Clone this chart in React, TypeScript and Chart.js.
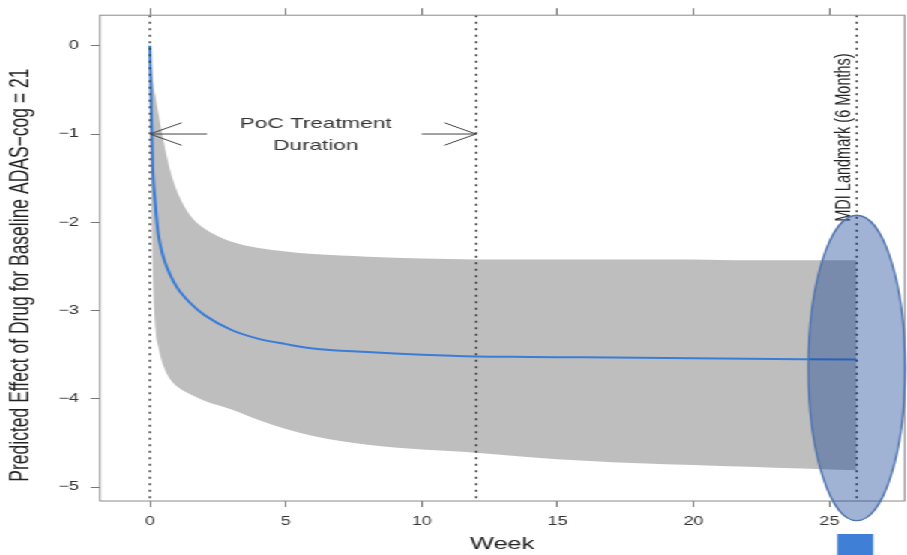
import { useEffect, useRef } from 'react';
import { Chart, registerables } from 'chart.js';

Chart.register(...registerables);

// ---- data ----
const WEEKS = [0, 0.05, 0.1, 0.2, 0.3, 0.5, 0.75, 1, 1.5, 2, 3, 4, 5, 6, 8, 10, 12, 14, 16, 18, 20, 22, 24, 26];
const MEAN = [0, -0.75, -1.36, -1.8, -2.12, -2.4, -2.6, -2.74, -2.92, -3.05, -3.22, -3.32, -3.38, -3.43, -3.47, -3.5, -3.52, -3.525, -3.53, -3.535, -3.54, -3.545, -3.55, -3.555];
const UPPER = [0, -0.2, -0.37, -0.57, -0.75, -1.08, -1.42, -1.65, -1.93, -2.07, -2.22, -2.29, -2.33, -2.36, -2.39, -2.41, -2.42, -2.42, -2.42, -2.42, -2.42, -2.43, -2.43, -2.43];
const LOWER = [0, -1.6, -2.5, -3.2, -3.4, -3.63, -3.78, -3.86, -3.95, -4.02, -4.12, -4.24, -4.34, -4.42, -4.52, -4.575, -4.61, -4.66, -4.7, -4.73, -4.75, -4.77, -4.79, -4.81];

const X_TICKS = [0, 5, 10, 15, 20, 25];
const Y_TICKS = [0, -1, -2, -3, -4, -5];
const X_MIN = -1.84;
const X_MAX = 27.76;
const Y_MIN = -5.157;
const Y_MAX = 0.346;

const VLINES = [0, 12, 26];
const POC_START = 0;
const POC_END = 12;
const ARROW_Y = -1;
const ARROW_TAIL_LEFT = 2.1;
const ARROW_TAIL_RIGHT = 10.0;
const POC_TEXT_X = 6.1;
const POC_TEXT = ['PoC Treatment', 'Duration'];
const POC_TEXT_Y = [-0.89, -1.13];
const MDI_TEXT = 'MDI Landmark (6 Months)';
const MDI_X = 25.55;
const MDI_Y = -1.04;
const ELLIPSE = { x: 26, y: -3.65, rx: 1.78, ry: 1.73 };

const Y_TITLE = 'Predicted Effect of Drug for Baseline ADAS\u2212cog = 21';
const X_TITLE = 'Week';

// ---- layout ----
const CW = 605;
const CH = 555;
const VIEW_W = 907;
const FONT = "'Liberation Sans', Arial, Helvetica, sans-serif";

const tickSetter = (vals: number[]) => (s: any) => {
  s.ticks = vals.map((v) => ({ value: v }));
};

const annotPlugin = {
  id: 'annot',
  afterDatasetsDraw(chart: any) {
    const { ctx, chartArea: a, scales } = chart;
    const x = scales.x;
    const y = scales.y;
    ctx.save();
    // dotted vertical lines
    ctx.setLineDash([2, 4.5]);
    ctx.strokeStyle = '#3c3c3c';
    ctx.lineWidth = 1.4;
    VLINES.forEach((w) => {
      const px = x.getPixelForValue(w);
      ctx.beginPath();
      ctx.moveTo(px, a.top);
      ctx.lineTo(px, a.bottom);
      ctx.stroke();
    });
    ctx.setLineDash([]);

    // arrows
    ctx.strokeStyle = '#444';
    ctx.lineWidth = 1;
    const ay = y.getPixelForValue(ARROW_Y);
    const len = 24;
    const ang = (28 * Math.PI) / 180;
    const arrow = (tail: number, tip: number) => {
      const t = x.getPixelForValue(tail);
      const p = x.getPixelForValue(tip);
      const dir = p > t ? -1 : 1;
      ctx.beginPath();
      ctx.moveTo(t, ay);
      ctx.lineTo(p, ay);
      ctx.moveTo(p + dir * len * Math.cos(ang), ay - len * Math.sin(ang));
      ctx.lineTo(p, ay);
      ctx.lineTo(p + dir * len * Math.cos(ang), ay + len * Math.sin(ang));
      ctx.stroke();
    };
    arrow(ARROW_TAIL_LEFT, POC_START);
    arrow(ARROW_TAIL_RIGHT, POC_END);

    // PoC text
    ctx.fillStyle = '#333';
    ctx.font = `15px ${FONT}`;
    ctx.textAlign = 'center';
    ctx.textBaseline = 'middle';
    POC_TEXT.forEach((t, i) => {
      ctx.fillText(t, x.getPixelForValue(POC_TEXT_X), y.getPixelForValue(POC_TEXT_Y[i]));
    });

    // MDI rotated text
    ctx.save();
    ctx.translate(x.getPixelForValue(MDI_X), y.getPixelForValue(MDI_Y));
    ctx.rotate(-Math.PI / 2);
    ctx.font = `14.5px ${FONT}`;
    ctx.fillStyle = '#222';
    ctx.fillText(MDI_TEXT, 0, 0);
    ctx.restore();

    // box
    ctx.strokeStyle = '#8a8a8a';
    ctx.lineWidth = 1;
    ctx.strokeRect(a.left, a.top, a.right - a.left, a.bottom - a.top);
    ctx.restore();
  },
  afterDraw(chart: any) {
    const { ctx, chartArea: a, scales } = chart;
    const x = scales.x;
    const y = scales.y;
    ctx.save();
    // y title
    ctx.translate(14, (a.top + a.bottom) / 2 + 17);
    ctx.rotate(-Math.PI / 2);
    ctx.font = `17.5px ${FONT}`;
    ctx.fillStyle = '#222';
    ctx.textAlign = 'center';
    ctx.textBaseline = 'middle';
    ctx.fillText(Y_TITLE, 0, 0);
    ctx.restore();

    // ellipse
    ctx.save();
    const cx = x.getPixelForValue(ELLIPSE.x);
    const cy = y.getPixelForValue(ELLIPSE.y);
    const rx = x.getPixelForValue(ELLIPSE.x + ELLIPSE.rx) - cx;
    const ry = y.getPixelForValue(ELLIPSE.y - ELLIPSE.ry) - cy;
    ctx.beginPath();
    ctx.ellipse(cx, cy, rx, ry, 0, 0, Math.PI * 2);
    ctx.fillStyle = 'rgba(10, 60, 145, 0.39)';
    ctx.fill();
    ctx.strokeStyle = '#4f73ad';
    ctx.lineWidth = 1.3;
    ctx.stroke();

    // small blue square below
    ctx.fillStyle = '#3f7fd6';
    const sw = 24;
    ctx.fillRect(cx - sw / 2 - 1, a.bottom + 33, sw, 30);
    ctx.restore();
  },
};

export default function App() {
  const ref = useRef<HTMLCanvasElement>(null);
  useEffect(() => {
    const canvas = ref.current!;
    const pts = (ys: number[]) => WEEKS.map((w, i) => ({ x: w, y: ys[i] }));
    const tickFont = { family: FONT, size: 12 };
    const chart = new Chart(canvas, {
      type: 'line',
      data: {
        datasets: [
          {
            label: 'upper',
            data: pts(UPPER),
            order: 2,
            borderWidth: 0,
            borderColor: 'rgba(0,0,0,0)',
            backgroundColor: '#bebebe',
            pointRadius: 0,
            fill: '+1',
            cubicInterpolationMode: 'monotone',
          },
          {
            label: 'lower',
            data: pts(LOWER),
            order: 3,
            borderWidth: 0,
            borderColor: 'rgba(0,0,0,0)',
            backgroundColor: '#bebebe',
            pointRadius: 0,
            fill: false,
            cubicInterpolationMode: 'monotone',
          },
          {
            label: 'mean',
            data: pts(MEAN),
            order: 0,
            borderWidth: 2,
            borderColor: '#3a7dd7',
            pointRadius: 0,
            fill: false,
            cubicInterpolationMode: 'monotone',
          },
        ],
      },
      options: {
        responsive: false,
        animation: false,
        events: [],
        layout: { padding: { left: 0, right: 1.7, top: 0, bottom: 0 } },
        plugins: { legend: { display: false }, tooltip: { enabled: false } },
        scales: {
          x: {
            type: 'linear',
            position: 'bottom',
            min: X_MIN,
            max: X_MAX,
            afterBuildTicks: tickSetter(X_TICKS),
            afterFit: (s: any) => {
              s.height = 54;
            },
            grid: { drawOnChartArea: false, drawTicks: true, tickLength: 6, tickColor: '#777', lineWidth: 1 },
            border: { display: false },
            ticks: { font: tickFont, color: '#333', padding: 7, maxRotation: 0, autoSkip: false },
            title: {
              display: true,
              text: X_TITLE,
              font: { family: FONT, size: 17 },
              color: '#222',
              padding: { top: 0, bottom: 0 },
            },
          },
          x2: {
            type: 'linear',
            position: 'top',
            min: X_MIN,
            max: X_MAX,
            afterBuildTicks: tickSetter(X_TICKS),
            afterFit: (s: any) => {
              s.height = 10;
            },
            grid: { drawOnChartArea: false, drawTicks: true, tickLength: 7, tickColor: '#777', lineWidth: 1 },
            border: { display: false },
            ticks: { display: false },
          },
          y: {
            type: 'linear',
            position: 'left',
            min: Y_MIN,
            max: Y_MAX,
            afterBuildTicks: tickSetter(Y_TICKS),
            afterFit: (s: any) => {
              s.width = 66.7;
            },
            grid: { drawOnChartArea: false, drawTicks: true, tickLength: 6, tickColor: '#777', lineWidth: 1 },
            border: { display: false },
            ticks: {
              font: tickFont,
              color: '#333',
              padding: 8,
              callback: (v: any) => (Number(v) === 0 ? '0' : '\u2212' + Math.abs(Number(v))),
            },
          },
        },
      },
      plugins: [annotPlugin],
    } as any);
    return () => chart.destroy();
  }, []);
  return (
    <div
      style={{
        position: 'fixed',
        left: 0,
        top: 0,
        width: CW,
        height: CH,
        transform: `scaleX(${VIEW_W / CW})`,
        transformOrigin: '0 0',
        background: '#fff',
        overflow: 'hidden',
      }}
    >
      <canvas ref={ref} width={CW} height={CH} style={{ width: CW, height: CH, display: 'block' }} />
    </div>
  );
}
